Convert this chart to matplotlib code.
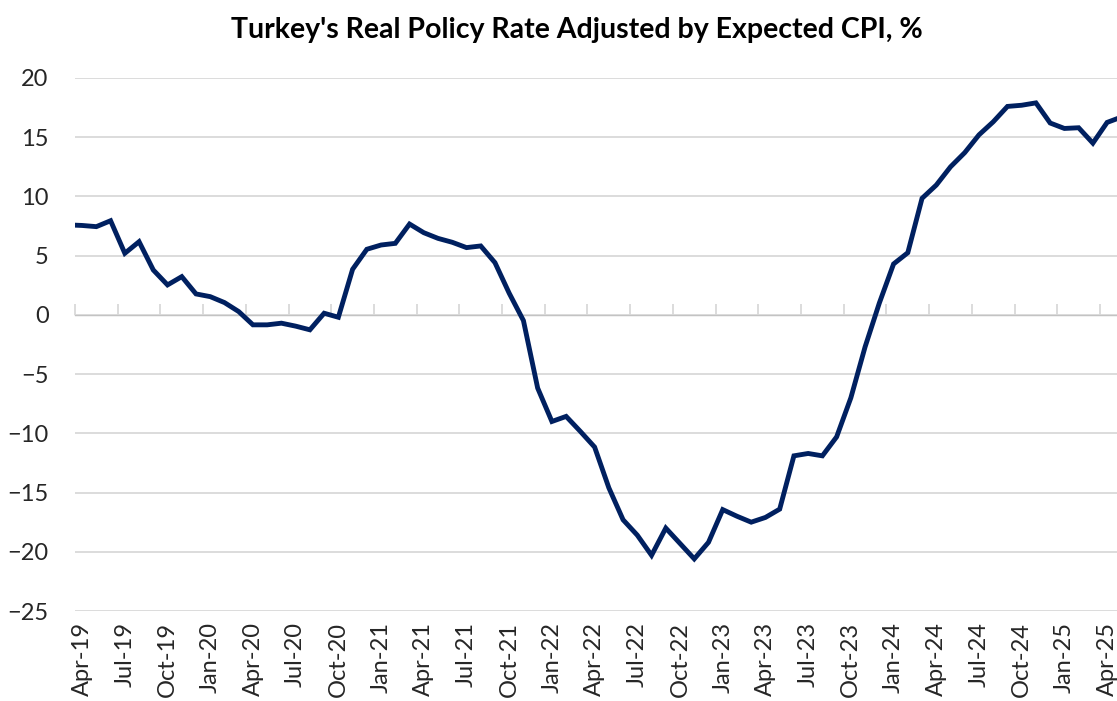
import numpy as np
import matplotlib
matplotlib.use("Agg")
import matplotlib.pyplot as plt

# monthly real policy rate (%), Mar-19 .. May-25 (first and last points sit on the plot edges)
months = ["Mar-19", "Apr-19", "May-19", "Jun-19", "Jul-19", "Aug-19", "Sep-19", "Oct-19", "Nov-19", "Dec-19",
          "Jan-20", "Feb-20", "Mar-20", "Apr-20", "May-20", "Jun-20", "Jul-20", "Aug-20", "Sep-20", "Oct-20", "Nov-20", "Dec-20",
          "Jan-21", "Feb-21", "Mar-21", "Apr-21", "May-21", "Jun-21", "Jul-21", "Aug-21", "Sep-21", "Oct-21", "Nov-21", "Dec-21",
          "Jan-22", "Feb-22", "Mar-22", "Apr-22", "May-22", "Jun-22", "Jul-22", "Aug-22", "Sep-22", "Oct-22", "Nov-22", "Dec-22",
          "Jan-23", "Feb-23", "Mar-23", "Apr-23", "May-23", "Jun-23", "Jul-23", "Aug-23", "Sep-23", "Oct-23", "Nov-23", "Dec-23",
          "Jan-24", "Feb-24", "Mar-24", "Apr-24", "May-24", "Jun-24", "Jul-24", "Aug-24", "Sep-24", "Oct-24", "Nov-24", "Dec-24",
          "Jan-25", "Feb-25", "Mar-25", "Apr-25", "May-25"]

real_rate = [7.6, 7.55, 7.45, 7.95, 5.2, 6.18, 3.79, 2.53, 3.23, 1.77,
             1.54, 1.04, 0.28, -0.84, -0.84, -0.70, -0.95, -1.26, 0.14, -0.20, 3.85, 5.54,
             5.9, 6.04, 7.67, 6.94, 6.46, 6.13, 5.68, 5.82, 4.41, 1.83, -0.48, -6.18,
             -9.0, -8.57, -9.84, -11.16, -14.6, -17.3, -18.6, -20.3, -18.0, -19.3, -20.6, -19.2,
             -16.44, -17.0, -17.5, -17.1, -16.4, -11.9, -11.7, -11.9, -10.3, -7.0, -2.7, 1.0,
             4.3, 5.25, 9.84, 10.96, 12.5, 13.7, 15.2, 16.3, 17.6, 17.7, 17.9, 16.2,
             15.74, 15.8, 14.5, 16.25, 16.7]

y_ticks = [20, 15, 10, 5, 0, -5, -10, -15, -20, -25]

plt.rcParams["font.family"] = ["Lato", "DejaVu Sans"]

W, H = 1117, 701
fig = plt.figure(figsize=(W / 100, H / 100), dpi=100)
ax = fig.add_axes([75 / W, (H - 611) / H, 1 - 75 / W, 533 / H])

# Excel style: points in the middle of each category
x = np.arange(len(real_rate)) - 0.5
ax.plot(x, real_rate, color="#002060", lw=3.5, solid_joinstyle="miter")

ax.set_ylim(-25, 20)
ax.set_xlim(0, 1042 / 14.236)
ax.set_yticks(y_ticks)
ax.yaxis.grid(True, color="#d9d9d9", lw=1.3)
ax.set_axisbelow(True)
for s in ax.spines.values():
    s.set_visible(False)

ax.set_xticks(x[1::3])
ax.set_xticklabels(months[1::3], rotation=90)
ax.tick_params(axis="x", length=0, pad=8, labelsize=17, labelcolor="#262626")
ax.tick_params(axis="y", length=0, pad=19, labelsize=17, labelcolor="#262626")

# tick marks hanging off the zero line
sec = ax.secondary_xaxis(25 / 45)
sec.set_xticks(np.arange(0, 73, 3))
sec.set_xticklabels([])
sec.tick_params(axis="x", length=8, width=1.3, color="#d9d9d9", direction="out")
sec.spines["bottom"].set_visible(False)

fig.text(577 / W, 1 - 30 / H, "Turkey's Real Policy Rate Adjusted by Expected CPI, %",
         ha="center", va="center", fontsize=20.5, fontweight="bold", color="#000000")

fig.savefig("out.png", dpi=100)
plt.close(fig)
